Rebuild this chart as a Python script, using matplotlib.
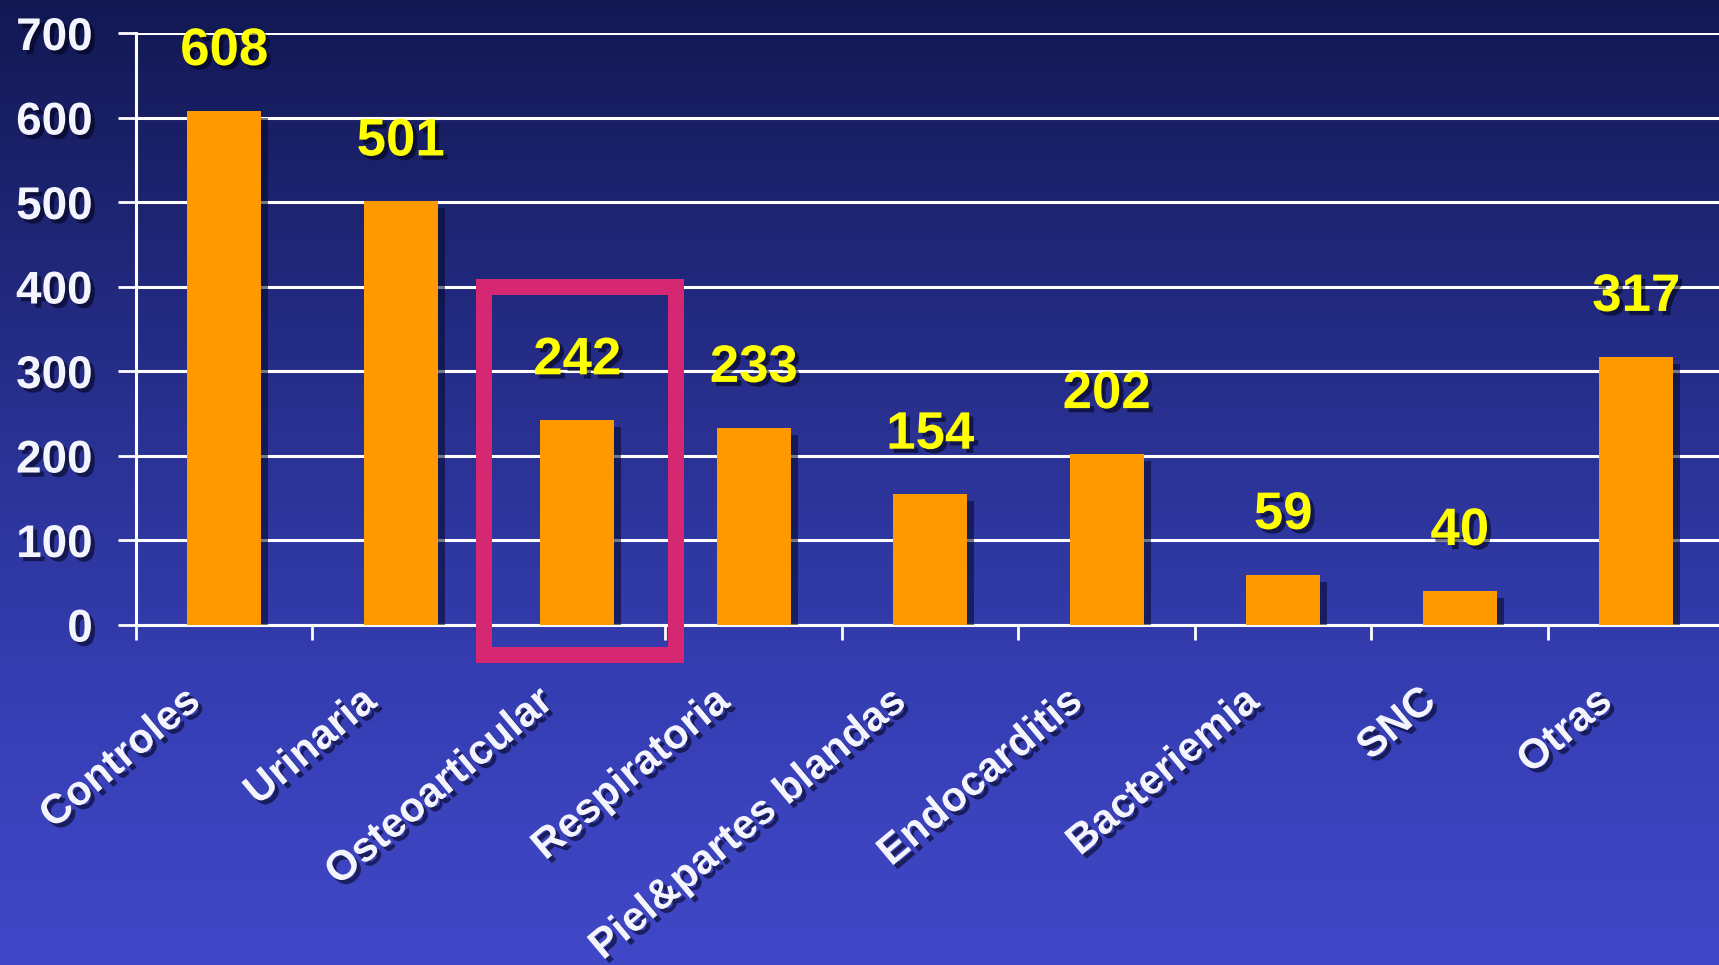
import numpy as np
import matplotlib
matplotlib.use("Agg")
import matplotlib.pyplot as plt
import matplotlib.patches as patches
import matplotlib.patheffects as pe
from matplotlib.colors import LinearSegmentedColormap
from matplotlib.transforms import ScaledTranslation

categories = ["Controles", "Urinaria", "Osteoarticular", "Respiratoria",
              "Piel&partes blandas", "Endocarditis", "Bacteriemia", "SNC", "Otras"]
values = [608, 501, 242, 233, 154, 202, 59, 40, 317]
y_ticks = [0, 100, 200, 300, 400, 500, 600, 700]
highlight = "Osteoarticular"

BAR = "#FF9900"
VALUE = "#FFFF00"
TEXT = "#F4F4FF"
BOX = "#D62872"

fig = plt.figure(figsize=(17.19, 9.65), dpi=100)

# slide-style vertical gradient, navy at the top to a brighter blue at the bottom
bg = fig.add_axes([0, 0, 1, 1], zorder=-10)
grad_cmap = LinearSegmentedColormap.from_list(
    "slide", ["#121852", "#1f2676", "#2c3499", "#373fb6", "#4148c8"])
bg.imshow(np.linspace(0, 1, 256).reshape(-1, 1), aspect="auto", cmap=grad_cmap,
          extent=[0, 1, 0, 1], origin="upper")
bg.set_axis_off()

ax = fig.add_axes([0.0791, 0.3528, 0.9241, 0.6130])
ax.set_facecolor("none")

shadow = [pe.withSimplePatchShadow(offset=(5, -5), shadow_rgbFace="#05072a", alpha=0.55)]
text_shadow = [pe.withSimplePatchShadow(offset=(3, -3), shadow_rgbFace="#000010", alpha=0.55)]

x = np.arange(len(categories)) + 0.5
bars = ax.bar(x, values, width=0.42, color=BAR, zorder=3)
for b in bars:
    b.set_path_effects(shadow)

for xi, v in zip(x, values):
    ax.annotate(str(v), (xi, v), xytext=(0, 43), textcoords="offset points",
                ha="center", va="center", fontsize=38, fontweight="bold",
                family="Liberation Sans", color=VALUE, path_effects=text_shadow,
                zorder=5)

ax.set_xlim(0, len(categories))
ax.set_ylim(0, 700)

ax.set_yticks(y_ticks)
ax.yaxis.grid(True, color="white", linewidth=2.2, zorder=1)
ax.set_axisbelow(True)
ax.tick_params(axis="y", direction="out", length=13, width=2, color="white",
               pad=18, labelcolor=TEXT, labelsize=33)
for lab in ax.get_yticklabels():
    lab.set_family("Liberation Sans")
    lab.set_fontweight("bold")
    lab.set_path_effects(text_shadow)

# boundaries get the tick marks, centres carry the rotated names
ax.set_xticks(np.arange(len(categories) + 1))
ax.set_xticklabels([])
ax.tick_params(axis="x", which="major", direction="out", length=11, width=2,
               color="white")
ax.set_xticks(x, minor=True)
ax.set_xticklabels(categories, minor=True, rotation=40, ha="right",
                   va="baseline", rotation_mode="anchor")
ax.tick_params(axis="x", which="minor", length=0, pad=57.6, labelsize=30,
               labelcolor=TEXT)
nudge = ScaledTranslation(-22 / 100, 0, fig.dpi_scale_trans)
for lab in ax.get_xticklabels(minor=True):
    lab.set_family("Liberation Sans")
    lab.set_fontweight("bold")
    lab.set_path_effects(text_shadow)
    lab.set_transform(lab.get_transform() + nudge)

for side in ("top", "right"):
    ax.spines[side].set_visible(False)
for side in ("left", "bottom"):
    ax.spines[side].set_color("white")
    ax.spines[side].set_linewidth(2.2)
ax.spines["left"].set_zorder(2)

# frame around the highlighted category
hi = categories.index(highlight)
frame = patches.Rectangle((x[hi] - 0.53, -36), 1.09, 436, fill=False,
                          edgecolor=BOX, linewidth=11.5, joinstyle="miter",
                          clip_on=False, zorder=6)
ax.add_patch(frame)

fig.savefig("out.png", dpi=100)
